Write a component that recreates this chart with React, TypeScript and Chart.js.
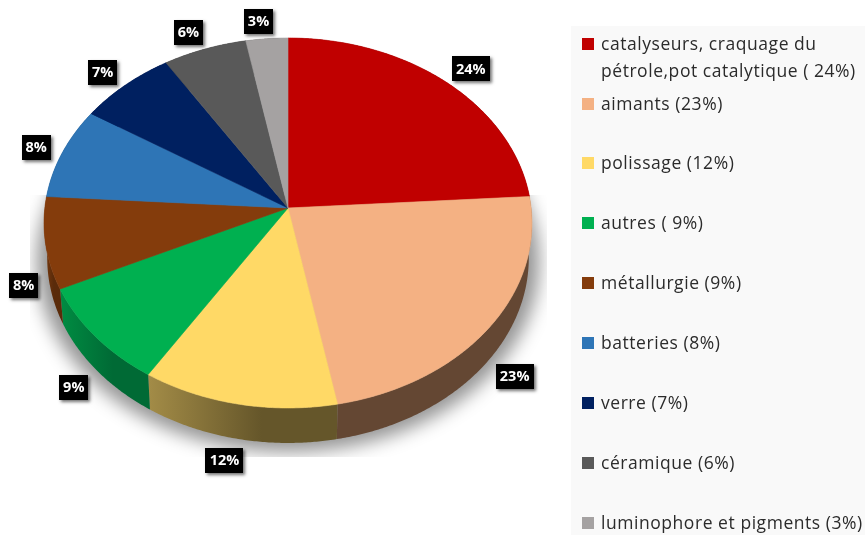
import React, { useEffect, useRef } from "react";
import { Chart, registerables } from "chart.js";

Chart.register(...registerables);

const categories = [
  "catalyseurs, craquage du pétrole,pot catalytique",
  "aimants",
  "polissage",
  "autres",
  "métallurgie",
  "batteries",
  "verre",
  "céramique",
  "luminophore et pigments",
];
const values = [24, 23, 12, 9, 8, 8, 7, 6, 3];
const legendLines = [
  ["catalyseurs, craquage du", "pétrole,pot catalytique ( 24%)"],
  ["aimants (23%)"],
  ["polissage (12%)"],
  ["autres ( 9%)"],
  ["métallurgie (9%)"],
  ["batteries (8%)"],
  ["verre (7%)"],
  ["céramique (6%)"],
  ["luminophore et pigments (3%)"],
];
const colors = ["#c00000", "#f4b183", "#ffd966", "#00b050", "#843c0c", "#2e75b6", "#002060", "#595959", "#a5a2a2"];
const sideLeft = ["#600000", "#644733", "#a38c47", "#008c42", "#7a3a0e", "#17395a", "#001030", "#2c2c2c", "#525050"];
const sideRight = ["#600000", "#644733", "#65562a", "#006a35", "#5a2b0a", "#17395a", "#001030", "#2c2c2c", "#525050"];

const RX = 1.169;
const RY = 0.8835;
const K = 0.081;
const DEPTH = 35;
const BASE_SCALE = 0.987;

function rim(cx: number, cy: number, r: number, a: number) {
  const s = Math.sin(a);
  const w = 1 - K * s;
  return { x: cx + (r * RX * Math.cos(a)) / w, y: cy + (r * RY * s) / w };
}

function arcPoints(cx: number, cy: number, r: number, a0: number, a1: number) {
  const n = Math.max(2, Math.ceil((a1 - a0) / 0.008));
  const pts = [];
  for (let i = 0; i <= n; i++) pts.push(rim(cx, cy, r, a0 + ((a1 - a0) * i) / n));
  return pts;
}

const perspectivePie = {
  id: "perspectivePie",
  beforeDatasetDraw(chart: any) {
    const ctx = chart.ctx;
    const arcs = chart.getDatasetMeta(0).data;
    const cx = arcs[0].x;
    const cy = arcs[0].y;
    const r = arcs[0].outerRadius;

    // soft shadow below the disc
    ctx.save();
    ctx.beginPath();
    ctx.rect(30, 195, 517, 262);
    ctx.clip();
    ctx.shadowColor = "rgba(0,0,0,0.42)";
    ctx.shadowBlur = 18;
    ctx.shadowOffsetX = 2000;
    ctx.shadowOffsetY = 0;
    ctx.fillStyle = "#000";
    ctx.beginPath();
    arcPoints(cx, cy + DEPTH + 3, r * 1.03, 0, Math.PI * 2).forEach((p: any, i: number) => {
      if (i === 0) ctx.moveTo(p.x - 2000, p.y);
      else ctx.lineTo(p.x - 2000, p.y);
    });
    ctx.closePath();
    ctx.fill();
    ctx.restore();

    // side wall
    arcs.forEach((arc: any, i: number) => {
      const pts = arcPoints(cx, cy, r, arc.startAngle, arc.endAngle);
      const xs = pts.map((p: any) => p.x);
      const g = ctx.createLinearGradient(Math.min(...xs), 0, Math.max(...xs), 0);
      g.addColorStop(0, sideLeft[i]);
      g.addColorStop(0.6, sideRight[i]);
      g.addColorStop(1, sideRight[i]);
      ctx.fillStyle = g;
      ctx.beginPath();
      pts.forEach((p: any, j: number) => (j === 0 ? ctx.moveTo(p.x, p.y) : ctx.lineTo(p.x, p.y)));
      pts.slice().reverse().forEach((p: any) => ctx.lineTo(cx + (p.x - cx) * BASE_SCALE, p.y + DEPTH));
      ctx.closePath();
      ctx.fill();
    });

    // top face
    arcs.forEach((arc: any) => {
      ctx.fillStyle = arc.options.backgroundColor;
      ctx.strokeStyle = arc.options.backgroundColor;
      ctx.lineWidth = 0.6;
      ctx.beginPath();
      ctx.moveTo(cx, cy);
      arcPoints(cx, cy, r, arc.startAngle, arc.endAngle).forEach((p: any) => ctx.lineTo(p.x, p.y));
      ctx.closePath();
      ctx.fill();
      ctx.stroke();
    });

    // value labels
    ctx.font = "700 14.5px 'Open Sans'";
    ctx.textAlign = "center";
    ctx.textBaseline = "middle";
    arcs.forEach((arc: any, i: number) => {
      const mid = (arc.startAngle + arc.endAngle) / 2;
      const p = rim(cx, cy, r, mid);
      const co = Math.cos(mid);
      const si = Math.sin(mid);
      const amp = co > 0 ? 31 : si > 0 ? 21 : 27;
      const lx = p.x + amp * Math.sign(co) * Math.sqrt(Math.abs(co)) - (si > 0 ? 5 * si : 0);
      const ly = p.y + 18 * si + (si > 0 ? 39 : 0) + (si < 0 ? 0.5 : 0);
      const text = `${chart.data.datasets[0].data[i]}%`;
      const w = text.length === 3 ? 38 : 29;
      const h = 25;
      ctx.save();
      ctx.shadowColor = "rgba(0,0,0,0.55)";
      ctx.shadowBlur = 3;
      ctx.shadowOffsetX = 2;
      ctx.shadowOffsetY = 2;
      ctx.fillStyle = "#000";
      ctx.fillRect(Math.round(lx - w / 2), Math.round(ly - h / 2), w, h);
      ctx.restore();
      ctx.fillStyle = "#fff";
      ctx.fillText(text, lx, ly + 0.5);
    });
    return false;
  },
};

export default function App() {
  const ref = useRef<HTMLCanvasElement>(null);
  useEffect(() => {
    const chart = new Chart(ref.current as HTMLCanvasElement, {
      type: "pie",
      data: {
        labels: categories,
        datasets: [{ data: values, backgroundColor: colors, borderWidth: 0 }],
      },
      options: {
        responsive: false,
        animation: false,
        layout: { padding: { left: 0, top: 0, right: 289, bottom: 119 } },
        plugins: { legend: { display: false }, tooltip: { enabled: false } },
      },
      plugins: [perspectivePie],
    } as any);
    return () => chart.destroy();
  }, []);

  const rowTop = (i: number) => (i === 0 ? 30 : i === 1 ? 90 : 29 + 60 * i);
  return (
    <div style={{ position: "absolute", left: 0, top: 0, width: 865, height: 535, overflow: "hidden", background: "#fff" }}>
      <div style={{ position: "absolute", left: 571, top: 26, width: 294, height: 509, background: "#f9f9f9" }} />
      <canvas ref={ref} width={865} height={535} style={{ position: "absolute", left: 0, top: 0, display: "block" }} />
      {legendLines.map((lines, i) => (
        <div key={i} style={{ position: "absolute", left: 582, top: rowTop(i), fontFamily: "'Open Sans'", fontSize: 17.5, letterSpacing: 0.55, lineHeight: "27px", color: "#2b2b2b", whiteSpace: "nowrap" }}>
          <span style={{ position: "absolute", left: 0, top: 8, width: 12, height: 12, background: colors[i] }} />
          {lines.map((t) => (
            <div key={t} style={{ marginLeft: 19 }}>{t}</div>
          ))}
        </div>
      ))}
    </div>
  );
}
